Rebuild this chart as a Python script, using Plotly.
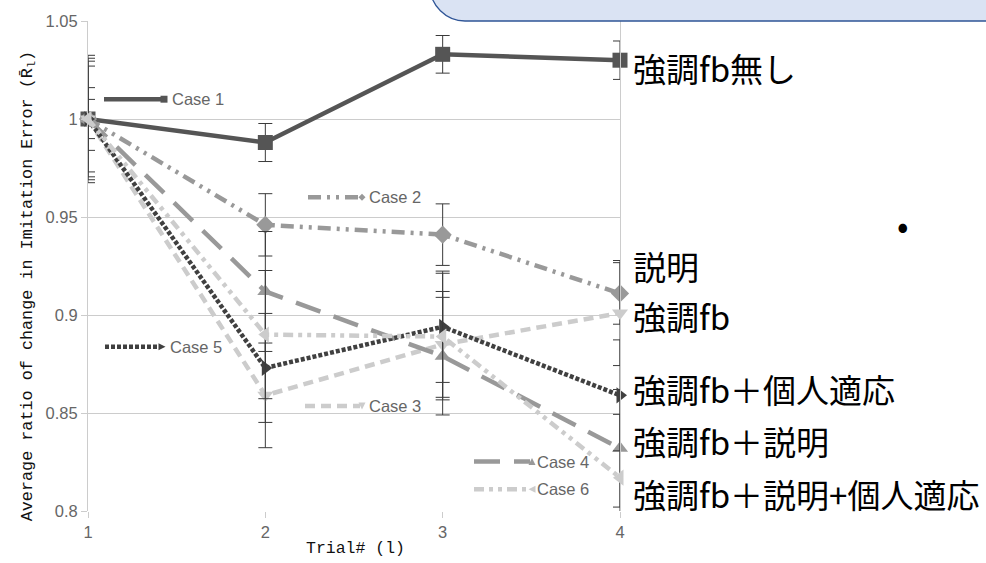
import plotly.graph_objects as go

# ---- data -------------------------------------------------------------
trials = [1, 2, 3, 4]
case_names = ["Case 1", "Case 2", "Case 3", "Case 4", "Case 5", "Case 6"]

case1 = [1.000, 0.988, 1.033, 1.030]
case2 = [1.000, 0.946, 0.941, 0.911]
case3 = [1.000, 0.859, 0.885, 0.901]
case4 = [1.000, 0.912, 0.879, 0.832]
case5 = [1.000, 0.873, 0.894, 0.859]
case6 = [1.000, 0.890, 0.889, 0.817]

err1 = [0.0100, 0.0097, 0.0096, 0.0098]
err2 = [0.0160, 0.0159, 0.0157, 0.0157]
err3 = [0.0270, 0.0267, 0.0270, 0.0268]
err4 = [0.0310, 0.0306, 0.0300, 0.0300]
err5 = [0.0295, 0.0278, 0.0284, 0.0283]
err6 = [0.0325, 0.0327, 0.0323, 0.0323]

y_tick_vals = [0.8, 0.85, 0.9, 0.95, 1.0, 1.05]
y_tick_text = ["0.8", "0.85", "0.9", "0.95", "1", "1.05"]
x_tick_text = ["1", "2", "3", "4"]

condition_labels = [
    "強調fb無し",
    "説明",
    "強調fb",
    "強調fb＋個人適応",
    "強調fb＋説明",
    "強調fb＋説明+個人適応",
]

# ---- geometry (pixels) -----------------------------------------------
FIG_W, FIG_H = 986, 563
L, R, T, B = 88, 620, 16, 511
PW, PH = R - L, B - T


def px(xp):
    return (xp - L) / PW


def py(yp):
    return (B - yp) / PH


series = [
    dict(y=case1, e=err1, color="#555555", dash="solid", symbol="square", size=15),
    dict(y=case2, e=err2, color="#999999", dash="13px,6px,3px,6px,3px,6px", symbol="diamond", size=14),
    dict(y=case3, e=err3, color="#cccccc", dash="10px,6px", symbol="triangle-down", size=14),
    dict(y=case4, e=err4, color="#999999", dash="26px,14px", symbol="triangle-up", size=14),
    dict(y=case5, e=err5, color="#404040", dash="4px,2px", symbol="triangle-right", size=14),
    dict(y=case6, e=err6, color="#cccccc", dash="10px,5px,4px,5px,4px,5px", symbol="triangle-left", size=14),
]

fig = go.Figure()
for name, s in zip(case_names, series):
    fig.add_trace(go.Scatter(
        x=trials, y=s["y"], name=name, mode="lines+markers",
        line=dict(color=s["color"], width=4.5, dash=s["dash"]),
        marker=dict(symbol=s["symbol"], size=s["size"], color=s["color"]),
        error_y=dict(type="data", array=s["e"], visible=True,
                     color="#3a3a3a", thickness=1, width=7),
        showlegend=False, cliponaxis=False,
    ))

# ---- in-plot legend keys ------------------------------------------------
key_pos = [  # (x start, x end, y, text x) in pixels
    (104, 162, 95, 170),
    (308, 360, 194, 367),
    (305, 360, 405, 367),
    (474, 530, 461, 535),
    (105, 160, 345, 168),
    (474, 530, 489, 535),
]

shapes = []
annotations = []


def marker_path(symbol, cx, cy, r):
    if symbol == "square":
        pts = [(cx - r, cy - r), (cx + r, cy - r), (cx + r, cy + r), (cx - r, cy + r)]
    elif symbol == "diamond":
        pts = [(cx, cy - r), (cx + r, cy), (cx, cy + r), (cx - r, cy)]
    elif symbol == "triangle-down":
        pts = [(cx - r, cy - r), (cx + r, cy - r), (cx, cy + r)]
    elif symbol == "triangle-up":
        pts = [(cx - r, cy + r), (cx + r, cy + r), (cx, cy - r)]
    elif symbol == "triangle-right":
        pts = [(cx - r, cy - r), (cx + r, cy), (cx - r, cy + r)]
    else:
        pts = [(cx + r, cy - r), (cx - r, cy), (cx + r, cy + r)]
    d = "M " + " L ".join(f"{px(a):.5f},{py(b):.5f}" for a, b in pts) + " Z"
    return d


for name, s, (x0, x1, yk, xt) in zip(case_names, series, key_pos):
    shapes.append(dict(type="line", xref="paper", yref="paper",
                       x0=px(x0), x1=px(x1), y0=py(yk), y1=py(yk),
                       line=dict(color=s["color"], width=4.5, dash=s["dash"])))
    shapes.append(dict(type="path", xref="paper", yref="paper",
                       path=marker_path(s["symbol"], x1 + 2, yk, 3.5),
                       fillcolor=s["color"], line=dict(width=0)))
    annotations.append(dict(text=name, xref="paper", yref="paper",
                            x=px(xt), y=py(yk), xanchor="left", yanchor="middle",
                            showarrow=False,
                            font=dict(family="Liberation Sans, Arial", size=16.5, color="#666666")))

# ---- condition labels on the right ----------------------------------------
label_y = [63, 263, 314, 388, 440, 494]
for txt, yl in zip(condition_labels, label_y):
    annotations.append(dict(text=txt, xref="paper", yref="paper",
                            x=px(631), y=py(yl), xanchor="left", yanchor="middle",
                            showarrow=False,
                            font=dict(family="Noto Sans CJK JP", size=33, color="#000000")))

# bullet mark
annotations.append(dict(text="•", xref="paper", yref="paper",
                        x=px(903), y=py(221), xanchor="center", yanchor="middle",
                        showarrow=False,
                        font=dict(family="Noto Sans CJK JP", size=34, color="#000000")))

# axis titles
annotations.append(dict(text="Average ratio of change in Imitation Error (R\u0304<sub>l</sub>)",
                        xref="paper", yref="paper", x=px(29), y=py(284),
                        xanchor="center", yanchor="middle", textangle=-90,
                        showarrow=False,
                        font=dict(family="Liberation Mono, DejaVu Sans Mono", size=16.8, color="#111111")))
annotations.append(dict(text="Trial# (l)", xref="paper", yref="paper",
                        x=px(355), y=py(549), xanchor="center", yanchor="middle",
                        showarrow=False,
                        font=dict(family="Liberation Mono, DejaVu Sans Mono", size=16.5, color="#111111")))

# rounded callout box at top right
path = (f"M {px(430):.5f},{py(-40):.5f} L {px(430):.5f},{py(-19):.5f} "
        f"C {px(430):.5f},{py(0):.5f} {px(446):.5f},{py(16):.5f} {px(465):.5f},{py(16):.5f} "
        f"L {px(1000):.5f},{py(16):.5f} L {px(1000):.5f},{py(-40):.5f} Z")
shapes.append(dict(type="path", xref="paper", yref="paper", path=path,
                   fillcolor="#dae3f3", line=dict(color="#2f5597", width=1.3), layer="above"))

fig.update_layout(
    width=FIG_W, height=FIG_H,
    margin=dict(l=L, r=FIG_W - R, t=T, b=FIG_H - B),
    paper_bgcolor="white", plot_bgcolor="white",
    shapes=shapes, annotations=annotations,
    xaxis=dict(range=[1, 4], tickvals=trials, ticktext=x_tick_text,
               showgrid=False, zeroline=False, showline=False,
               ticks="outside", ticklen=6, tickcolor="#cccccc",
               tickfont=dict(family="Liberation Sans, Arial", size=16.5, color="#666666")),
    yaxis=dict(range=[0.8, 1.05], tickvals=y_tick_vals, ticktext=y_tick_text,
               showgrid=True, gridcolor="#cccccc", gridwidth=1, zeroline=False,
               showline=True, mirror=True, linecolor="#cccccc", linewidth=1,
               ticks="outside", ticklen=6, tickcolor="#cccccc",
               tickfont=dict(family="Liberation Sans, Arial", size=16.5, color="#666666")),
)

fig.write_html("out.html")
